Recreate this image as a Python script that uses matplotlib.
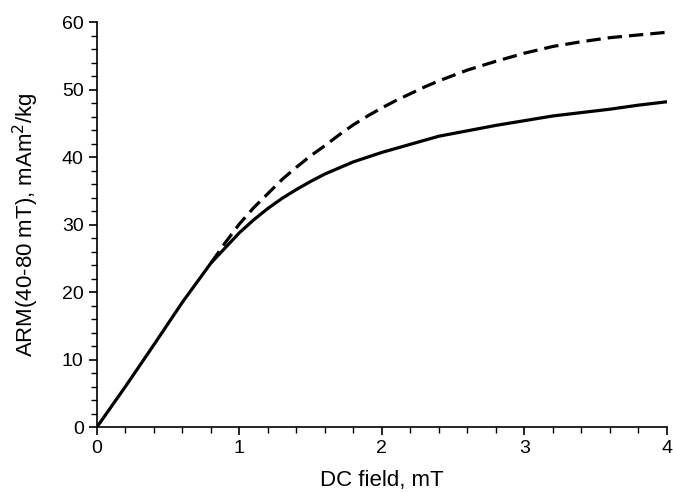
import numpy as np
import matplotlib
matplotlib.use("Agg")
import matplotlib.pyplot as plt
from matplotlib.ticker import MultipleLocator

plt.rcParams['font.family'] = ['Liberation Sans', 'DejaVu Sans']

# solid curve
field_solid = [0, 0.2, 0.4, 0.6, 0.8, 1.0, 1.1, 1.2, 1.3, 1.4, 1.5, 1.6, 1.8, 2.0, 2.2, 2.4, 2.6, 2.8, 3.0, 3.2, 3.4, 3.6, 3.8, 4.0]
arm_solid = [0, 6.0, 12.2, 18.5, 24.3, 28.8, 30.7, 32.4, 33.9, 35.2, 36.4, 37.5, 39.3, 40.7, 41.9, 43.1, 43.9, 44.7, 45.4, 46.1, 46.6, 47.1, 47.7, 48.2]

# dashed curve
field_dash = [0.8, 0.9, 1.0, 1.1, 1.2, 1.3, 1.4, 1.5, 1.6, 1.7, 1.8, 1.9, 2.0, 2.1, 2.2, 2.3, 2.4, 2.5, 2.6, 2.8, 3.0, 3.2, 3.4, 3.6, 3.8, 4.0]
arm_dash = [24.3, 27.3, 30.1, 32.5, 34.6, 36.7, 38.5, 40.2, 41.7, 43.3, 44.8, 46.1, 47.3, 48.4, 49.4, 50.4, 51.3, 52.1, 52.9, 54.2, 55.4, 56.4, 57.1, 57.7, 58.1, 58.5]

fig = plt.figure(figsize=(6.73, 4.92), dpi=100)
ax = fig.add_axes([0.144, 0.132, 0.847, 0.823])

ax.plot(field_solid, arm_solid, color='black', lw=2.3, solid_capstyle='round')
ax.plot(field_dash, arm_dash, color='black', lw=2.3, dashes=(4.5, 2.2))

ax.set_xlim(0, 4)
ax.set_ylim(0, 60)
ax.xaxis.set_major_locator(MultipleLocator(1))
ax.xaxis.set_minor_locator(MultipleLocator(0.2))
ax.yaxis.set_major_locator(MultipleLocator(10))
ax.yaxis.set_minor_locator(MultipleLocator(2))
ax.tick_params(which='major', length=6, width=1.2, labelsize=14, direction='out')
ax.tick_params(which='minor', length=4, width=1.0, direction='out')
ax.spines['top'].set_visible(False)
ax.spines['right'].set_visible(False)
ax.spines['left'].set_linewidth(1.2)
ax.spines['bottom'].set_linewidth(1.2)

ax.set_xlabel('DC field, mT', fontsize=16, labelpad=9)
ax.set_ylabel('ARM(40-80 mT), mAm$^2$/kg', fontsize=16, labelpad=15)

fig.savefig('out.png', dpi=100)
